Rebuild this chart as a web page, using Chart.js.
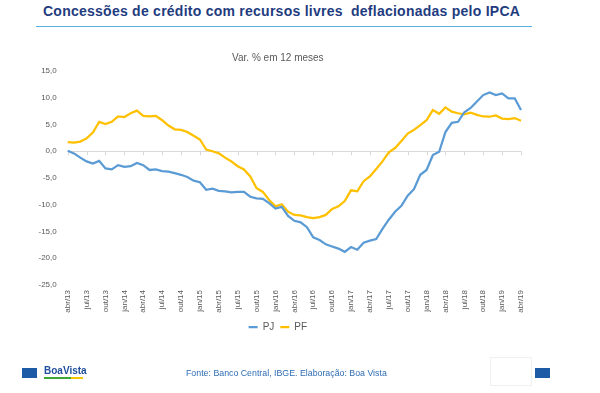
<!DOCTYPE html>
<html lang="pt-BR">
<head>
<meta charset="utf-8">
<title>Concessões de crédito com recursos livres</title>
<script src="https://cdn.jsdelivr.net/npm/chart.js@4.4.1/dist/chart.umd.min.js"></script>
<style>
  body { margin: 0; width: 600px; height: 393px; background: #fff; position: relative; overflow: hidden; font-family: "Liberation Sans", Arial, sans-serif; }
  #titulo { position: absolute; left: 43px; top: 3px; font-size: 14px; font-weight: bold; color: #1f3c80; white-space: pre; letter-spacing: 0.25px; }
  #linha { position: absolute; left: 36px; top: 26px; width: 496px; height: 1px; background: #5baee0; }
  #grafico { position: absolute; left: 0; top: 0; }
  .quad { position: absolute; top: 368px; width: 15px; height: 10px; background: #1e5ba6; }
  #logo { position: absolute; left: 44px; top: 365px; font-size: 10px; font-weight: bold; color: #1f4e9a; }
  #logoVerde { position: absolute; left: 44px; top: 377px; width: 27px; height: 2px; background: #3baa35; }
  #logoAmarelo { position: absolute; left: 71px; top: 377px; width: 12px; height: 2px; background: #f5c400; }
  #fonte { position: absolute; left: 186px; top: 368px; font-size: 8.8px; color: #2e6db4; }
  #caixa { position: absolute; left: 490px; top: 357px; width: 40px; height: 27px; border: 1px solid #f0f0f0; }
</style>
</head>
<body>
<div id="titulo">Concessões de crédito com recursos livres  deflacionadas pelo IPCA</div>
<div id="linha"></div>
<canvas id="grafico" width="600" height="393"></canvas>
<div class="quad" style="left:22px"></div>
<div id="logo">BoaVista</div>
<div id="logoVerde"></div>
<div id="logoAmarelo"></div>
<div id="fonte">Fonte: Banco Central, IBGE. Elaboração:  Boa Vista</div>
<div id="caixa"></div>
<div class="quad" style="left:535px"></div>
<script>
// Meses (abr/13 a abr/19)
const rotulos = [
    'abr/13','mai/13','jun/13','jul/13','ago/13','set/13','out/13','nov/13','dez/13',
    'jan/14','fev/14','mar/14','abr/14','mai/14','jun/14','jul/14','ago/14','set/14','out/14','nov/14','dez/14',
    'jan/15','fev/15','mar/15','abr/15','mai/15','jun/15','jul/15','ago/15','set/15','out/15','nov/15','dez/15',
    'jan/16','fev/16','mar/16','abr/16','mai/16','jun/16','jul/16','ago/16','set/16','out/16','nov/16','dez/16',
    'jan/17','fev/17','mar/17','abr/17','mai/17','jun/17','jul/17','ago/17','set/17','out/17','nov/17','dez/17',
    'jan/18','fev/18','mar/18','abr/18','mai/18','jun/18','jul/18','ago/18','set/18','out/18','nov/18','dez/18',
    'jan/19','fev/19','mar/19','abr/19'
];

// Var. % em 12 meses - pessoa jurídica
const valoresPJ = [
    0.1, -0.4, -1.2, -1.9, -2.3, -1.8, -3.2, -3.4, -2.6,
    -2.9, -2.8, -2.2, -2.6, -3.5, -3.4, -3.7, -3.8, -4.1, -4.4, -4.8, -5.5,
    -5.8, -7.2, -7.0, -7.4, -7.5, -7.7, -7.6, -7.6, -8.5, -8.8, -8.9, -9.7,
    -10.7, -10.4, -12.1, -13.0, -13.3, -14.2, -16.1, -16.6, -17.4, -17.8, -18.2, -18.8,
    -17.9, -18.4, -17.1, -16.7, -16.4, -14.5, -12.8, -11.3, -10.2, -8.3, -7.1, -4.4,
    -3.5, -0.7, -0.1, 3.6, 5.3, 5.5, 7.3, 8.1, 9.3, 10.5, 11.0, 10.5,
    10.8, 9.9, 9.9, 7.7
];

// Var. % em 12 meses - pessoa física
const valoresPF = [
    1.7, 1.6, 1.8, 2.4, 3.5, 5.5, 5.1, 5.5, 6.5,
    6.4, 7.1, 7.6, 6.6, 6.5, 6.6, 5.8, 4.8, 4.1, 4.0, 3.6, 2.9,
    2.2, 0.3, 0.0, -0.4, -1.2, -1.9, -2.8, -3.4, -4.7, -6.9, -7.6, -9.1,
    -10.3, -9.9, -11.3, -11.9, -12.0, -12.3, -12.5, -12.3, -11.9, -10.8, -10.3, -9.3,
    -7.3, -7.5, -5.6, -4.7, -3.3, -1.9, -0.2, 0.6, 1.9, 3.3, 4.0, 4.9,
    5.8, 7.7, 7.0, 8.2, 7.4, 7.1, 6.9, 7.2, 6.8, 6.5, 6.45, 6.7,
    6.1, 6.0, 6.2, 5.7
];

const fonteGrafico = '"Liberation Sans", Arial, sans-serif';
const cinza = '#595959';

// pequenos tracinhos no eixo zero, a cada 3 meses
const marcasZero = {
    id: 'marcasZero',
    beforeDatasetsDraw(chart) {
        const ctx = chart.ctx;
        const x = chart.scales.x;
        const y0 = chart.scales.y.getPixelForValue(0);
        ctx.save();
        ctx.strokeStyle = '#d9d9d9';
        ctx.lineWidth = 1;
        for (let i = 0; i < rotulos.length; i += 3) {
            const px = Math.round(x.getPixelForValue(i)) + 0.5;
            ctx.beginPath();
            ctx.moveTo(px, y0);
            ctx.lineTo(px, y0 + 4);
            ctx.stroke();
        }
        ctx.restore();
    }
};

let dados = {
    labels: rotulos,
    datasets: [{
        label: 'PJ',
        data: valoresPJ,
        borderColor: '#5b9bd5',
        backgroundColor: '#5b9bd5',
        borderWidth: 2.25,
        pointRadius: 0,
        tension: 0
    }, {
        label: 'PF',
        data: valoresPF,
        borderColor: '#ffc000',
        backgroundColor: '#ffc000',
        borderWidth: 2.25,
        pointRadius: 0,
        tension: 0
    }]
};

const config = {
    type: 'line',
    data: dados,
    plugins: [marcasZero],
    options: {
        responsive: false,
        animation: false,
        layout: { padding: { left: 34.7, right: 79, top: 45, bottom: 51 } },
        plugins: {
            title: {
                display: true,
                text: 'Var. % em 12 meses',
                color: cinza,
                font: { family: fonteGrafico, size: 10, weight: 'normal' },
                padding: { top: 7, bottom: 7 }
            },
            legend: {
                position: 'bottom',
                labels: {
                    usePointStyle: true,
                    pointStyle: 'line',
                    pointStyleWidth: 9,
                    boxHeight: 10,
                    padding: 6,
                    color: cinza,
                    font: { family: fonteGrafico, size: 10 }
                }
            },
            tooltip: { enabled: false }
        },
        scales: {
            x: {
                grid: { display: false, drawTicks: false },
                border: { display: false },
                ticks: {
                    autoSkip: false,
                    minRotation: 90,
                    maxRotation: 90,
                    padding: 5,
                    color: cinza,
                    font: { family: fonteGrafico, size: 8 },
                    callback: function (v, i) { return i % 3 === 0 ? rotulos[i] : ''; }
                },
                afterFit: function (s) { s.height = 31; }
            },
            y: {
                min: -25,
                max: 15,
                grid: {
                    drawTicks: false,
                    color: function (c) { return c.tick.value === 0 ? '#d9d9d9' : 'rgba(0,0,0,0)'; }
                },
                border: { display: false },
                ticks: {
                    stepSize: 5,
                    padding: 11,
                    color: cinza,
                    font: { family: fonteGrafico, size: 8 },
                    callback: function (v) { return v.toFixed(1).replace('.', ','); }
                },
                afterFit: function (s) { s.width = 33; }
            }
        }
    }
};

let myChart = new Chart(document.getElementById('grafico'), config);
</script>
</body>
</html>
